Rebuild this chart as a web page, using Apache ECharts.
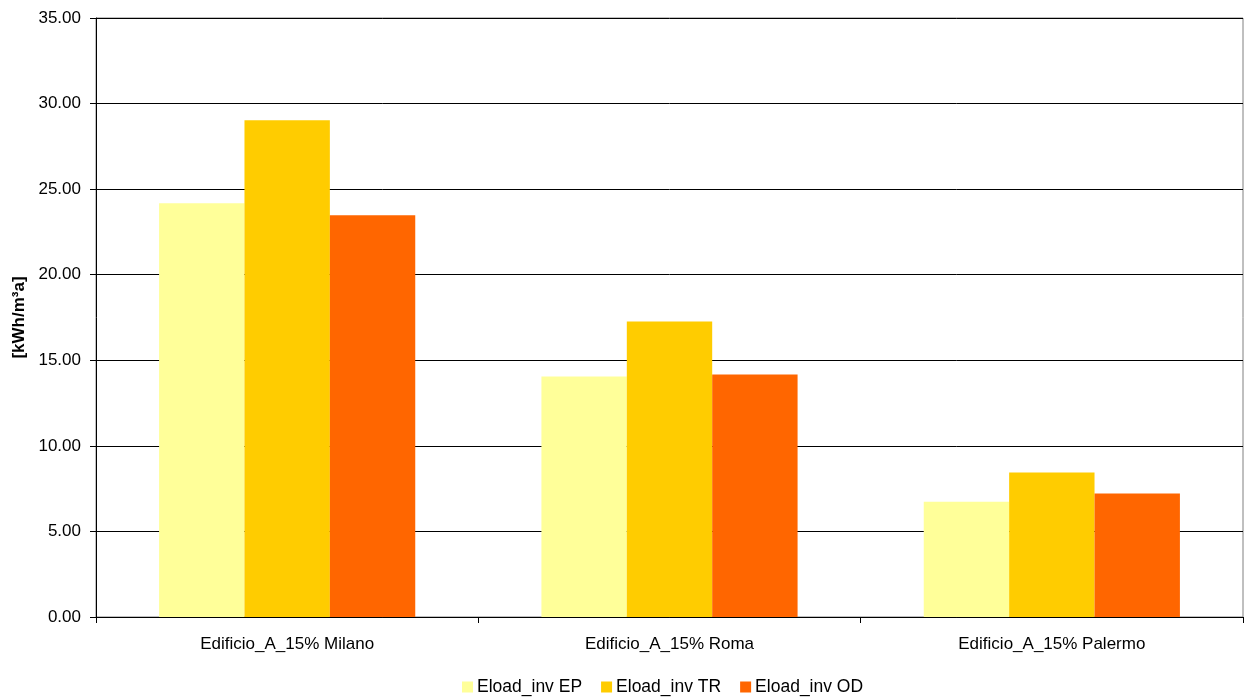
<!DOCTYPE html>
<html>
<head>
<meta charset="utf-8">
<script src="https://cdn.jsdelivr.net/npm/echarts@6/dist/echarts.min.js"></script>
<style>
html,body{margin:0;padding:0;background:#fff;}
#chart{width:1244px;height:697px;}
</style>
</head>
<body>
<div id="chart"></div>
<script>
const categories = ["Edificio_A_15% Milano", "Edificio_A_15% Roma", "Edificio_A_15% Palermo"];
const seriesNames = ["Eload_inv EP", "Eload_inv TR", "Eload_inv OD"];
const valuesEP = [24.17, 14.05, 6.74];
const valuesTR = [29.02, 17.27, 8.44];
const valuesOD = [23.47, 14.17, 7.21];
const colors = ["#FFFF99", "#FFCC00", "#FF6600"];
const yTicks = { min: 0, max: 35, interval: 5 };
const yName = "[kWh/m\u00B3a]";

const font = "'Liberation Sans', Arial, sans-serif";
const chart = echarts.init(document.getElementById('chart'), null, {renderer: 'canvas'});
const data = [valuesEP, valuesTR, valuesOD];
chart.setOption({
  animation: false,
  backgroundColor: '#fff',
  textStyle: { fontFamily: font },
  grid: { left: 96, right: 1, top: 18, bottom: 80, show: true, borderColor: '#808080', borderWidth: 1 },
  legend: {
    data: seriesNames,
    top: 673,
    left: 457,
    itemWidth: 11, itemHeight: 11, itemGap: 19,
    icon: 'rect',
    textStyle: { fontSize: 17.5, color: '#000', fontFamily: font, padding: [0,0,0,-1] }
  },
  xAxis: {
    type: 'category',
    data: categories,
    axisLine: { lineStyle: { color: '#000', width: 1 } },
    axisTick: { show: true, length: 6, lineStyle: { color: '#000' }, alignWithLabel: false },
    axisLabel: { fontSize: 17, color: '#000', margin: 19, fontFamily: font },
    splitLine: { show: false }
  },
  yAxis: {
    type: 'value',
    min: yTicks.min, max: yTicks.max, interval: yTicks.interval,
    name: yName,
    nameLocation: 'middle',
    nameGap: 66,
    nameRotate: 90,
    nameTextStyle: { fontSize: 17, fontWeight: 'bold', color: '#000', fontFamily: font },
    axisLine: { show: true, lineStyle: { color: '#000', width: 1 } },
    axisTick: { show: true, length: 6, lineStyle: { color: '#000' } },
    axisLabel: { fontSize: 17, color: '#000', margin: 15, fontFamily: font, formatter: v => v.toFixed(2) },
    splitLine: { show: true, lineStyle: { color: '#000', width: 1 } }
  },
  series: seriesNames.map((n, i) => ({
    name: n,
    type: 'bar',
    data: data[i],
    itemStyle: { color: colors[i] },
    barGap: '0%',
    barCategoryGap: '33%'
  }))
});
</script>
</body>
</html>
